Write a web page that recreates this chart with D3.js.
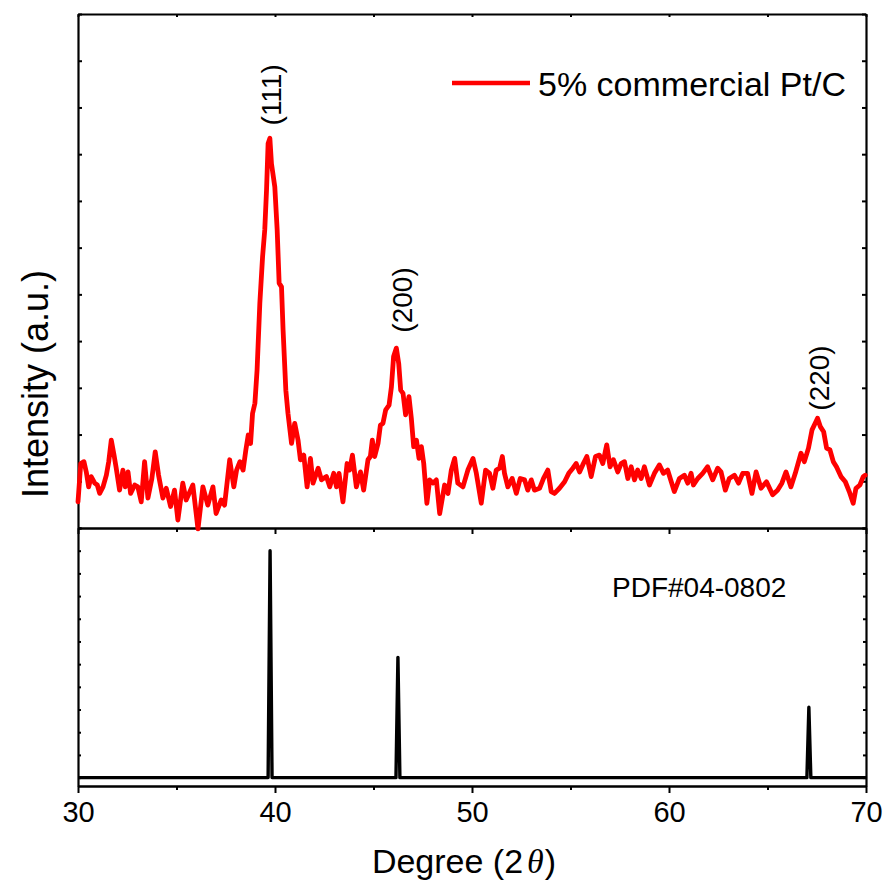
<!DOCTYPE html>
<html>
<head>
<meta charset="utf-8">
<script src="https://cdn.jsdelivr.net/npm/d3@7"></script>
<style>
  body { margin: 0; background: #fff; }
  text { font-family: "Liberation Sans", Arial, sans-serif; }
</style>
</head>
<body>
<script>
// measured XRD pattern, 5% commercial Pt/C
const xrdDeg = [30.00,30.14,30.30,30.42,30.54,30.67,30.85,30.98,31.10,31.27,31.44,31.56,31.69,31.83,31.94,32.11,32.28,32.40,32.54,32.67,
  32.88,33.04,33.21,33.38,33.55,33.75,33.92,34.09,34.31,34.48,34.70,34.90,35.07,35.32,35.49,35.83,36.09,36.34,36.59,36.85,
  37.01,37.27,37.44,37.70,37.91,38.05,38.22,38.38,38.52,38.64,38.76,38.86,38.98,39.09,39.23,39.37,39.48,39.57,39.65,39.74,
  39.82,39.99,40.11,40.21,40.33,40.41,40.55,40.66,40.84,41.00,41.17,41.29,41.46,41.63,41.80,41.93,42.19,42.36,42.61,42.78,
  42.98,43.12,43.25,43.45,43.66,43.79,43.93,44.13,44.34,44.50,44.72,44.84,44.94,45.06,45.23,45.35,45.48,45.62,45.79,45.91,
  46.02,46.16,46.28,46.38,46.50,46.63,46.80,46.92,47.04,47.18,47.31,47.43,47.55,47.71,47.85,48.02,48.19,48.36,48.61,48.78,
  48.95,49.12,49.28,49.54,49.79,50.05,50.22,50.47,50.69,50.89,51.06,51.23,51.40,51.54,51.65,51.82,52.04,52.25,52.45,52.67,
  52.83,53.01,53.17,53.43,53.63,53.85,54.02,54.19,54.44,54.70,54.91,55.12,55.29,55.46,55.62,55.83,56.05,56.27,56.47,56.64,
  56.84,57.01,57.18,57.40,57.57,57.74,57.91,58.08,58.25,58.41,58.59,58.75,59.01,59.26,59.51,59.72,59.93,60.27,60.53,60.78,
  60.95,61.12,61.24,61.46,61.71,61.96,62.22,62.47,62.64,62.86,63.06,63.32,63.53,63.74,63.99,64.21,64.42,64.67,64.95,65.26,
  65.51,65.73,65.94,66.19,66.41,66.70,66.87,67.08,67.26,67.42,67.54,67.68,67.85,68.00,68.17,68.34,68.50,68.73,68.95,69.15,
  69.35,69.49,69.69,69.86,69.96];
const xrdInt = [56,138,142,120,88,110,96,92,74,88,113,142,188,156,128,81,124,88,120,74,
  92,88,56,142,64,106,163,113,64,85,46,81,17,96,60,92,-2,88,49,88,
  31,60,49,146,88,124,142,124,167,199,181,245,267,338,481,581,638,723,823,834,
  780,730,638,524,516,424,295,245,181,224,188,146,156,88,149,96,128,103,110,88,
  117,88,117,56,138,124,156,88,120,81,146,153,188,153,181,220,224,253,263,302,
  367,385,352,295,288,242,281,235,174,188,149,174,138,53,103,96,103,31,92,74,
  124,149,96,88,124,149,117,53,124,117,85,124,128,153,117,88,106,74,106,103,
  81,103,81,85,106,124,78,74,85,99,117,128,138,120,135,153,110,153,156,138,
  178,131,146,120,138,142,106,131,103,124,106,131,92,117,135,117,124,78,106,113,
  96,117,92,106,117,131,103,128,120,81,106,113,96,117,117,74,120,85,99,71,
  81,96,120,88,117,160,142,171,210,224,235,217,206,171,167,142,131,110,99,78,
  53,85,92,110,113];

// reference pattern PDF#04-0802
const refDeg = [39.75, 46.24, 67.10];
const refInt = [100, 53, 31];

const hklLabels = ["(111)", "(200)", "(220)"];
const hklDeg = [39.82, 46.45, 67.62];
const hklInt = [927, 488, 321];

const xTicks = [30, 40, 50, 60, 70];
const xMinor = [35, 45, 55, 65];

const W = 886, H = 885;
const L = 78, R = 866, T = 14, MID = 528, B = 786;

const svg = d3.select("body").append("svg").attr("width", W).attr("height", H);

const x = d3.scaleLinear().domain([30, 70]).range([L, R]);
const yTop = d3.scaleLinear().domain([0, 1100]).range([MID, T]);
const yBot = d3.scaleLinear().domain([-3.7, 110]).range([B, MID]);

// ---- axes ----
function styleAxis(g) {
  g.selectAll("path.domain").attr("stroke", "#000").attr("stroke-width", 2.2);
  g.selectAll(".tick line").attr("stroke", "#000").attr("stroke-width", 2);
}

// bottom x axis
svg.append("g").attr("transform", `translate(0,${B})`)
  .call(d3.axisBottom(x).tickValues(xTicks).tickSize(7).tickSizeOuter(0).tickPadding(8))
  .call(styleAxis)
  .call(g => g.selectAll("text").attr("font-size", 29).attr("fill", "#000")
    .attr("font-family", "Liberation Sans, Arial, sans-serif"));
svg.append("g").attr("transform", `translate(0,${B})`)
  .call(d3.axisBottom(x).tickValues(xMinor).tickSize(4).tickSizeOuter(0).tickFormat(""))
  .call(styleAxis);

// divider between panels (ticks point down)
svg.append("g").attr("transform", `translate(0,${MID})`)
  .call(d3.axisBottom(x).tickValues(xTicks).tickSize(6).tickSizeOuter(0).tickFormat(""))
  .call(styleAxis);
svg.append("g").attr("transform", `translate(0,${MID})`)
  .call(d3.axisBottom(x).tickValues(xMinor).tickSize(4).tickSizeOuter(0).tickFormat(""))
  .call(styleAxis);

// top border (ticks inward)
svg.append("g").attr("transform", `translate(0,${T})`)
  .call(d3.axisBottom(x).tickValues(xTicks.concat(xMinor)).tickSize(3).tickSizeOuter(0).tickFormat(""))
  .call(styleAxis);

// left / right axes of top panel
const topTicks = d3.range(0, 1101, 100);
svg.append("g").attr("transform", `translate(${L},0)`)
  .call(d3.axisRight(yTop).tickValues(topTicks).tickSize(4).tickSizeOuter(0).tickFormat(""))
  .call(styleAxis);
svg.append("g").attr("transform", `translate(${R},0)`)
  .call(d3.axisLeft(yTop).tickValues(topTicks).tickSize(4).tickSizeOuter(0).tickFormat(""))
  .call(styleAxis);

// left / right axes of bottom panel
const botTicks = d3.range(0, 111, 10);
svg.append("g").attr("transform", `translate(${L},0)`)
  .call(d3.axisRight(yBot).tickValues(botTicks).tickSize(3).tickSizeOuter(0).tickFormat(""))
  .call(styleAxis);
svg.append("g").attr("transform", `translate(${R},0)`)
  .call(d3.axisLeft(yBot).tickValues(botTicks).tickSize(3).tickSizeOuter(0).tickFormat(""))
  .call(styleAxis);

// ---- reference sticks ----
const halfW = 0.1;
const refPts = [[30, 0]];
refDeg.forEach((d, i) => {
  refPts.push([d - halfW, 0], [d, refInt[i]], [d + halfW, 0]);
});
refPts.push([70, 0]);
svg.append("path")
  .datum(refPts)
  .attr("fill", "none")
  .attr("stroke", "#000")
  .attr("stroke-width", 3.4)
  .attr("stroke-linejoin", "round")
  .attr("d", d3.line().x(d => x(d[0])).y(d => yBot(d[1])));

// ---- measured pattern ----
const xrd = xrdDeg.map((d, i) => [d, xrdInt[i]]);
svg.append("path")
  .datum(xrd)
  .attr("fill", "none")
  .attr("stroke", "#ff0000")
  .attr("stroke-width", 4.8)
  .attr("stroke-linejoin", "round")
  .attr("stroke-linecap", "round")
  .attr("d", d3.line().x(d => x(d[0])).y(d => yTop(d[1])));

// hkl labels
hklLabels.forEach((t, i) => {
  const px = x(hklDeg[i]), py = yTop(hklInt[i]);
  svg.append("text")
    .attr("transform", `translate(${px},${py}) rotate(-90)`)
    .attr("text-anchor", "middle")
    .attr("dominant-baseline", "central")
    .attr("font-size", 28)
    .text(t);
});

// legend
svg.append("line")
  .attr("x1", 452).attr("x2", 530).attr("y1", 83).attr("y2", 83)
  .attr("stroke", "#ff0000").attr("stroke-width", 4.5);
svg.append("text")
  .attr("x", 538).attr("y", 84)
  .attr("dominant-baseline", "central")
  .attr("font-size", 34)
  .text("5% commercial Pt/C");

svg.append("text")
  .attr("x", 612).attr("y", 587)
  .attr("dominant-baseline", "central")
  .attr("font-size", 28)
  .text("PDF#04-0802");

// axis titles
const xt = svg.append("text")
  .attr("x", (L + R) / 2 - 8).attr("y", 873)
  .attr("text-anchor", "middle")
  .attr("font-size", 34);
xt.append("tspan").text("Degree (2");
xt.append("tspan").attr("font-family", "Liberation Serif, Times New Roman, serif")
  .attr("font-style", "italic").attr("dx", 4).text("θ");
xt.append("tspan").attr("dx", 1).text(")");

svg.append("text")
  .attr("transform", `translate(48,${(T + B) / 2 - 16}) rotate(-90)`)
  .attr("text-anchor", "middle")
  .attr("font-size", 36)
  .text("Intensity (a.u.)");
</script>
</body>
</html>
